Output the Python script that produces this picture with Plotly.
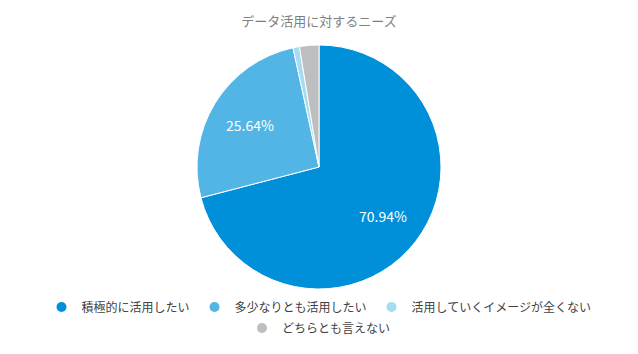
import math
import plotly.graph_objects as go

labels = ["積極的に活用したい", "多少なりとも活用したい", "活用していくイメージが全くない", "どちらとも言えない"]
values = [83, 30, 1, 3]
colors = ["#0090DA", "#52B5E6", "#A6DCF2", "#BDBEC0"]
show_text = [True, True, False, False]
legend_group = ["legend", "legend", "legend", "legend2"]

font = "Noto Sans CJK JP"
W, H = 638, 354
M_T, M_B = 45, 65
plot_h = H - M_T - M_B
radius = plot_h / 2
label_r = 0.66

fig = go.Figure()
fig.add_trace(go.Pie(
    labels=labels, values=values, sort=False, direction="clockwise", rotation=0,
    marker=dict(colors=colors, line=dict(color="white", width=1)),
    textinfo="none",
    showlegend=False, hoverinfo="label+percent",
    domain=dict(x=[0, 1], y=[0, 1]),
))
for lab, col, lg in zip(labels, colors, legend_group):
    fig.add_trace(go.Scatter(
        x=[None], y=[None], mode="markers", name=lab, legend=lg,
        marker=dict(symbol="circle", size=10, color=col),
    ))

# percentage labels placed along each slice's mid-angle
total = sum(values)
cum = 0
for v, s in zip(values, show_text):
    mid = (cum + v / 2) / total * 2 * math.pi
    cum += v
    if not s:
        continue
    xp = 0.5 + label_r * radius * math.sin(mid) / W
    yp = 0.5 + label_r * radius * math.cos(mid) / plot_h
    fig.add_annotation(x=xp, y=yp, xref="paper", yref="paper", showarrow=False,
                       xanchor="center", yanchor="middle",
                       text=f"{v / total * 100:.2f}%",
                       font=dict(family=font, size=14, color="white"))

leg_common = dict(orientation="h", x=0.5, xanchor="center", yanchor="middle",
                  font=dict(family=font, size=12, color="#404040"), itemwidth=30,
                  traceorder="normal", bgcolor="rgba(0,0,0,0)")

fig.update_layout(
    width=W, height=H,
    margin=dict(l=0, r=0, t=M_T, b=M_B),
    paper_bgcolor="white", plot_bgcolor="white",
    title=dict(text="データ活用に対するニーズ", x=0.5, xanchor="center", y=0.94, yanchor="middle",
               font=dict(family=font, size=13, color="#7f7f7f")),
    xaxis=dict(visible=False), yaxis=dict(visible=False),
    legend=dict(y=-0.074, **leg_common),
    legend2=dict(y=-0.16, **leg_common),
    showlegend=True,
)

fig.write_html("out.html")
